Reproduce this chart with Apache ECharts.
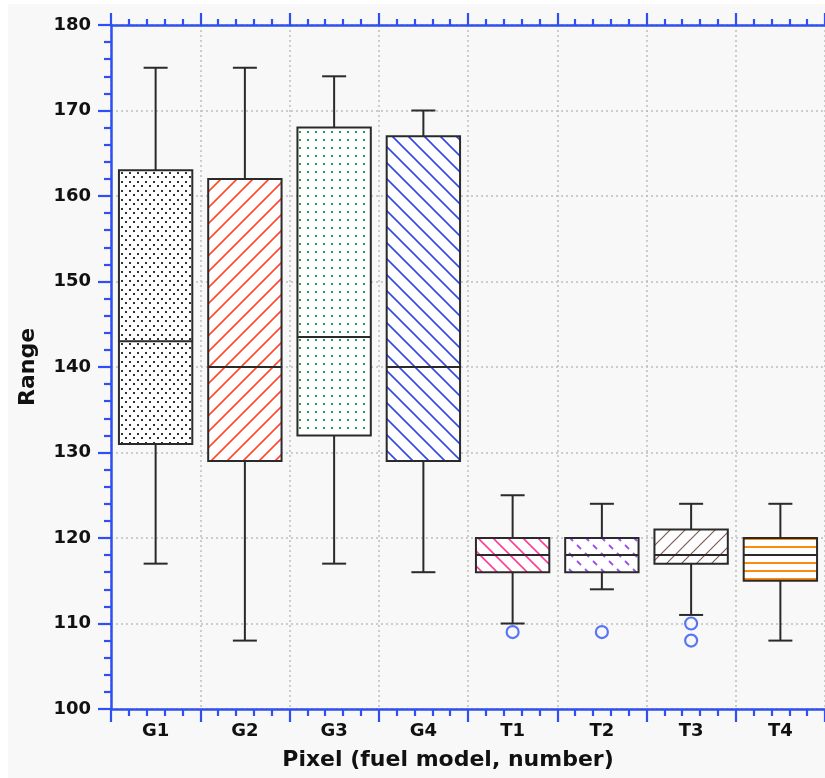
<!DOCTYPE html>
<html><head><meta charset="utf-8">
<script src="https://cdn.jsdelivr.net/npm/echarts@6/dist/echarts.min.js"></script>
<style>
html,body{margin:0;padding:0;background:#fff;}
#bg{position:absolute;left:8px;top:4px;width:817px;height:774px;background:#f8f8f8;}
#main{position:absolute;left:0;top:0;width:825px;height:778px;}
</style>
</head><body><div id="bg"></div><div id="main"></div>
<script>
// ---- data ----
const categories = ['G1', 'G2', 'G3', 'G4', 'T1', 'T2', 'T3', 'T4'];
const whiskerLow = [117, 108, 117, 116, 110, 114, 111, 108];
const q1 = [131, 129, 132, 129, 116, 116, 117, 115];
const median = [143, 140, 143.5, 140, 118, 118, 118, 118];
const q3 = [163, 162, 168, 167, 120, 120, 121, 120];
const whiskerHigh = [175, 175, 174, 170, 125, 124, 124, 124];
const outlierCats = ['T1', 'T2', 'T3', 'T3'];
const outlierValues = [109, 109, 110, 108];
const yMin = 100, yMax = 180, yInterval = 10;

// ---- styles ----
const AXIS_BLUE = '#2f4ff0';
const FONT = 'DejaVu Sans';

function makePattern(kind, color) {
  const c = document.createElement('canvas');
  let w = 8, h = 8;
  if (kind === 'slash' || kind === 'backslash') { w = h = 16; }
  if (kind === 'slashThin') { w = h = 15; }
  if (kind === 'backslashPink') { w = h = 15; }
  if (kind === 'dashBack') { w = h = 16; }
  if (kind === 'hlines') { w = 8; h = 8; }
  if (kind === 'dotsDense') { w = 8; h = 9; }
  if (kind === 'dotsGrid') { w = 8; h = 8; }
  c.width = w; c.height = h;
  const g = c.getContext('2d');
  g.fillStyle = '#ffffff';
  g.fillRect(0, 0, w, h);
  g.strokeStyle = color; g.fillStyle = color;
  if (kind === 'dotsDense') {
    g.fillRect(1, 1, 2, 2); g.fillRect(5, 5, 2, 2);
  } else if (kind === 'dotsGrid') {
    g.fillRect(3, 3, 2, 2);
  } else if (kind === 'slash' || kind === 'slashThin') {
    g.lineWidth = kind === 'slash' ? 1.6 : 1.2;
    g.beginPath();
    g.moveTo(-2, h + 2); g.lineTo(w + 2, -2);
    g.moveTo(-2, 2); g.lineTo(2, -2);
    g.moveTo(w - 2, h + 2); g.lineTo(w + 2, h - 2);
    g.stroke();
  } else if (kind === 'backslash' || kind === 'backslashPink') {
    g.lineWidth = 1.6;
    g.beginPath();
    g.moveTo(-2, -2); g.lineTo(w + 2, h + 2);
    g.moveTo(w - 2, -2); g.lineTo(w + 2, 2);
    g.moveTo(-2, h - 2); g.lineTo(2, h + 2);
    g.stroke();
  } else if (kind === 'dashBack') {
    g.lineWidth = 1.8;
    g.beginPath();
    g.moveTo(1, 1); g.lineTo(5, 5);
    g.moveTo(9, 9); g.lineTo(13, 13);
    g.stroke();
  } else if (kind === 'hlines') {
    g.fillRect(0, 2, w, 2);
  }
  return { image: c, repeat: 'repeat' };
}

const patterns = [
  makePattern('dotsDense', '#333333'),
  makePattern('slash', '#ff4a2a'),
  makePattern('dotsGrid', '#2f9d55'),
  makePattern('backslash', '#3346e6'),
  makePattern('backslashPink', '#ff3d97'),
  makePattern('dashBack', '#9a52f0'),
  makePattern('slashThin', '#7d5d55'),
  makePattern('hlines', '#ff8a10')
];

const boxData = categories.map((c, i) => [i, whiskerLow[i], q1[i], median[i], q3[i], whiskerHigh[i]]);
const outlierData = outlierCats.map((c, k) => [c, outlierValues[k]]);

function renderItem(params, api) {
  const i = api.value(0);
  const cx = api.coord([i, yMin])[0];
  const band = api.size([1, 0])[0];
  const boxW = band * 0.822;
  const capHalf = 12;
  const yLow = api.coord([i, api.value(1)])[1];
  const yQ1 = api.coord([i, api.value(2)])[1];
  const yMed = api.coord([i, api.value(3)])[1];
  const yQ3 = api.coord([i, api.value(4)])[1];
  const yHigh = api.coord([i, api.value(5)])[1];
  const ls = { stroke: '#2a2a2a', lineWidth: 2 };
  return {
    type: 'group',
    children: [
      { type: 'line', shape: { x1: cx, y1: yHigh, x2: cx, y2: yQ3 }, style: ls },
      { type: 'line', shape: { x1: cx, y1: yQ1, x2: cx, y2: yLow }, style: ls },
      { type: 'line', shape: { x1: cx - capHalf, y1: yHigh, x2: cx + capHalf, y2: yHigh }, style: ls },
      { type: 'line', shape: { x1: cx - capHalf, y1: yLow, x2: cx + capHalf, y2: yLow }, style: ls },
      { type: 'rect', shape: { x: cx - boxW / 2, y: yQ3, width: boxW, height: yQ1 - yQ3 },
        style: { fill: patterns[i], stroke: '#2a2a2a', lineWidth: 2 } },
      { type: 'line', shape: { x1: cx - boxW / 2, y1: yMed, x2: cx + boxW / 2, y2: yMed }, style: ls }
    ]
  };
}

const chart = echarts.init(document.getElementById('main'), null, { renderer: 'canvas' });
const tickStyle = { color: AXIS_BLUE, width: 2.2 };
chart.setOption({
  backgroundColor: 'transparent',
  animation: false,
  grid: { left: 111, right: -6, top: 25, bottom: 69 },
  xAxis: [
    {
      type: 'category', data: categories, position: 'bottom', boundaryGap: true,
      axisLine: { show: false }, axisTick: { show: false },
      axisLabel: { show: true, margin: 13, color: '#111', fontFamily: FONT, fontWeight: 'bold', fontSize: 18 },
      splitLine: { show: true, interval: 0, lineStyle: { color: '#bdbdbd', type: [2, 3], width: 1.5 } },
      name: 'Pixel (fuel model, number)', nameLocation: 'middle', nameGap: 40,
      nameTextStyle: { color: '#111', fontFamily: FONT, fontWeight: 'bold', fontSize: 22, padding: [0, 40, 0, 0] }
    },
    {
      type: 'value', min: 0, max: 8, interval: 1, position: 'bottom',
      axisLine: { show: true, lineStyle: { color: AXIS_BLUE, width: 2.5 } },
      axisTick: { show: true, length: 13, lineStyle: tickStyle },
      minorTick: { show: true, splitNumber: 5, length: 7, lineStyle: tickStyle },
      axisLabel: { show: false }, splitLine: { show: false }
    },
    {
      type: 'value', min: 0, max: 8, interval: 1, position: 'top',
      axisLine: { show: true, lineStyle: { color: AXIS_BLUE, width: 2.5 } },
      axisTick: { show: true, length: 12, lineStyle: tickStyle },
      minorTick: { show: true, splitNumber: 5, length: 6, lineStyle: tickStyle },
      axisLabel: { show: false }, splitLine: { show: false }
    }
  ],
  yAxis: [
    {
      type: 'value', min: yMin, max: yMax, interval: yInterval, position: 'left',
      axisLine: { show: true, lineStyle: { color: AXIS_BLUE, width: 2.5 } },
      axisTick: { show: true, length: 13, lineStyle: tickStyle },
      minorTick: { show: true, splitNumber: 5, length: 7, lineStyle: tickStyle },
      axisLabel: { margin: 20, color: '#111', fontFamily: FONT, fontWeight: 'bold', fontSize: 18 },
      splitLine: { show: true, lineStyle: { color: '#bdbdbd', type: [2, 3], width: 1.5 } },
      name: 'Range', nameLocation: 'middle', nameGap: 72, nameRotate: 90,
      nameTextStyle: { color: '#111', fontFamily: FONT, fontWeight: 'bold', fontSize: 22 }
    }
  ],
  series: [
    {
      type: 'custom', xAxisIndex: 0, yAxisIndex: 0, renderItem: renderItem,
      encode: { x: 0, y: [1, 2, 3, 4, 5] }, data: boxData, z: 3
    },
    {
      type: 'scatter', xAxisIndex: 0, yAxisIndex: 0, data: outlierData,
      symbol: 'circle', symbolSize: 12, z: 4,
      itemStyle: { color: '#f8f8f8', borderColor: '#2f55f2', borderWidth: 2.2 }
    }
  ]
});
</script>
</body></html>
